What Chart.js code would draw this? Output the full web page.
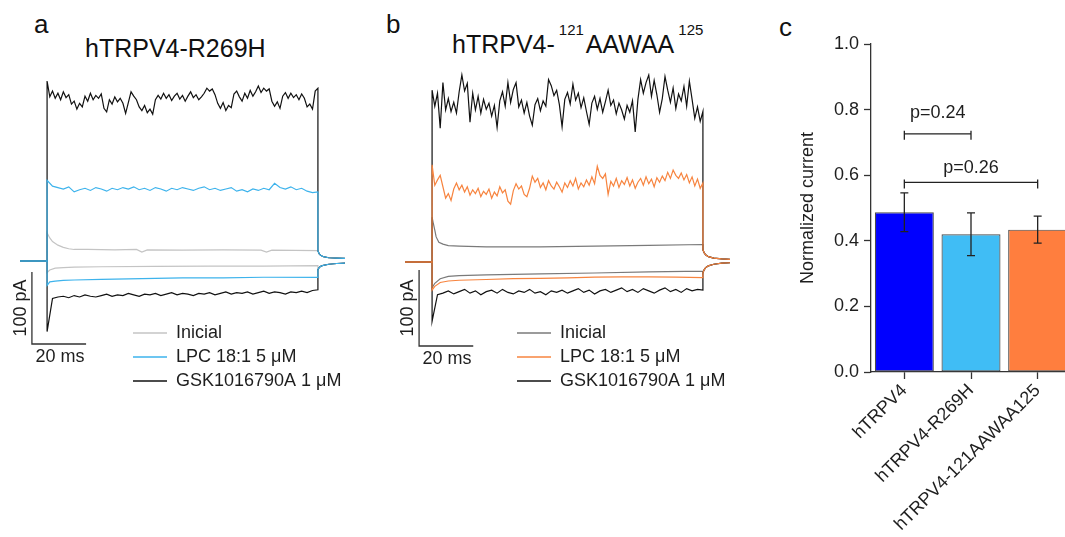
<!DOCTYPE html>
<html>
<head>
<meta charset="utf-8">
<script src="https://cdn.jsdelivr.net/npm/chart.js"></script>
<style>
  body { margin: 0; background: #fff; width: 1065px; height: 537px; overflow: hidden; position: relative; }
  canvas { position: absolute; top: 0; }
  .lab { position: absolute; font: 26px/26px "Liberation Sans", Arial, sans-serif; color: #111; }
  .ttl { position: absolute; font: 25px/25px "Liberation Sans", Arial, sans-serif; color: #111; white-space: nowrap; }
  .ttl sup { font-size: 15px; vertical-align: baseline; position: relative; top: -18px; margin: 0 2px 0 4px; }
</style>
</head>
<body>
<div class="lab" style="left:34px;top:11px">a</div>
<div class="ttl" style="left:85px;top:36px">hTRPV4-R269H</div>
<div class="lab" style="left:386px;top:11px">b</div>
<div class="ttl" style="left:452px;top:32px">hTRPV4-<sup>121</sup>AAWAA<sup>125</sup></div>
<div class="lab" style="left:779px;top:14px">c</div>

<canvas id="trace_a" width="360" height="400" style="left:0px"></canvas>
<canvas id="trace_b" width="360" height="400" style="left:380px"></canvas>
<canvas id="bar_c" width="310" height="537" style="left:770px"></canvas>

<script>
// ---- data (times in ms, currents in pA) ----
const conditions = ['Inicial', 'LPC 18:1 5 \u03bcM', 'GSK1016790A 1 \u03bcM'];
const scaleBarMs = 20;
const scaleBarPA = 100;

const baseT = [-10, 0];
const baseI = [0, 0];
const tailT = [100, 100.5, 101, 102, 104, 107, 110];

// panel a: hTRPV4-R269H
const grayUpA_t = [0, 1, 2, 4, 6, 8, 10, 15, 25, 33, 35, 37, 50, 65, 79, 81, 83, 100];
const grayUpA = [39, 32, 27, 22, 19, 17, 16, 16, 15.5, 16, 12.5, 15.5, 15, 15.5, 15, 12.5, 15, 14.5];
const grayDownA_t = [0, 1, 3, 6, 10, 20, 40, 60, 80, 100];
const grayDownA = [-16, -12.5, -10, -9.3, -8.5, -8, -7.5, -7, -7, -6.5];
const blueDownA_t = [0, 1, 3, 6, 10, 20, 35, 50, 65, 80, 100];
const blueDownA = [-34, -29, -28, -27, -26.4, -25.5, -24.5, -23.5, -23.5, -22.6, -22.8];
// every 2 ms
const blueUpA = [112, 104, 102, 100, 103, 96, 99, 101, 98, 102, 100, 97, 101, 99, 102, 100, 103, 99, 101, 98,
  102, 100, 97, 101, 99, 102, 100, 98, 101, 103, 99, 101, 98, 100, 102, 97, 99, 96, 100, 98,
  101, 99, 108, 102, 100, 103, 99, 101, 97, 95, 96];
const blackDownA = [-98, -52, -50, -49, -51, -48, -50, -47, -49, -50, -48, -46, -49, -47, -48, -45, -47, -49, -46, -47,
  -45, -48, -46, -44, -47, -45, -46, -48, -45, -46, -44, -47, -45, -43, -46, -44, -45, -43, -46, -44,
  -42, -45, -43, -44, -46, -43, -44, -42, -44, -41, -40];
// every 1 ms
const blackUpA = [250, 228, 236, 226, 233, 224, 235, 227, 231, 218, 222, 211, 219, 214, 229, 222, 233, 224, 230, 226,
  232, 212, 207, 224, 218, 228, 221, 226, 219, 205, 220, 235, 229, 224, 214, 209, 216, 206, 211, 204,
  224, 230, 225, 233, 226, 231, 223, 229, 233, 225, 230, 222, 229, 235, 227, 231, 224, 228, 233, 240,
  236, 239, 231, 219, 212, 220, 209, 216, 213, 232, 236, 228, 222, 233, 226, 237, 229, 235, 243, 234,
  240, 236, 239, 222, 215, 221, 212, 229, 234, 226, 233, 227, 231, 224, 232, 226, 214, 218, 211, 236, 240];
const tailUpA = [14, 10, 8, 6, 4.5, 4, 3.5];
const tailDownA = [-12, -9, -7.5, -6, -4.5, -3.5, -3];

// panel b: hTRPV4-121AAWAA125
const grayUpB_t = [0, 0.5, 1, 1.5, 2.5, 4, 6, 10, 20, 40, 60, 80, 100];
const grayUpB = [59, 50, 42, 33, 26, 23.5, 21.5, 21, 20, 20, 21, 22, 23];
const grayDownB_t = [0, 1, 3, 6, 10, 20, 40, 60, 80, 100];
const grayDownB = [-34, -28, -22, -19, -18, -17, -15.5, -14.5, -13, -12];
const orangeDownB_t = [0, 1, 3, 6, 10, 20, 30, 40, 50, 60, 70, 80, 90, 100];
const orangeDownB = [-37, -32, -27, -25, -24, -23, -22, -21.5, -21, -20, -19.5, -19.5, -20, -20.5];
// every 1 ms
const orangeUpB = [128, 101, 108, 114, 99, 84, 90, 81, 96, 104, 95, 101, 92, 99, 88, 95, 90, 97, 86, 93,
  89, 96, 84, 92, 87, 99, 91, 95, 80, 76, 94, 103, 96, 100, 89, 86, 97, 113, 105, 110,
  98, 104, 95, 107, 100, 96, 105, 99, 92, 104, 98, 107, 100, 110, 96, 104, 99, 108, 101, 112,
  103, 126, 114, 110, 116, 89, 106, 100, 110, 98, 107, 102, 111, 100, 108, 97, 105, 110, 101, 112,
  103, 109, 99, 111, 105, 113, 107, 118, 110, 121, 114, 110, 117, 108, 115, 104, 112, 100, 109, 97, 104];
const blackUpB = [226, 205, 222, 176, 236, 200, 215, 198, 210, 196, 224, 246, 225, 235, 184, 222, 200, 218, 196, 214,
  201, 209, 192, 206, 177, 212, 224, 205, 236, 210, 227, 236, 204, 213, 196, 210, 192, 180, 207, 215,
  199, 212, 205, 240, 232, 219, 226, 207, 178, 214, 223, 208, 234, 213, 222, 203, 216, 198, 181, 209,
  218, 201, 215, 197, 211, 226, 206, 213, 195, 209, 200, 188, 206, 197, 212, 171, 214, 240, 222, 236,
  246, 218, 239, 220, 197, 215, 244, 226, 210, 229, 202, 221, 212, 231, 205, 238, 214, 189, 204, 185, 198];
// every 2 ms
const blackDownB = [-78, -43, -41, -38, -42, -39, -36, -41, -38, -43, -39, -37, -41, -36, -40, -42, -38, -40, -36, -41,
  -39, -43, -38, -40, -37, -41, -38, -35, -40, -37, -42, -38, -36, -40, -37, -34, -39, -36, -40, -35,
  -38, -41, -37, -34, -39, -36, -40, -35, -38, -36, -37];
const tailUpB = [16, 12, 9.5, 7, 5, 4, 3.5];
const tailDownB = [-14, -10, -7.5, -5, -3, -1.5, -1];

// panel c
const groups = ['hTRPV4', 'hTRPV4-R269H', 'hTRPV4-121AAWAA125'];
const meanCurrent = [0.487, 0.420, 0.434];
const semCurrent = [0.059, 0.065, 0.041];
const pLabels = ['p=0.24', 'p=0.26'];
const pFrom = [0, 0];
const pTo = [1, 2];
const pLevel = [0.726, 0.578];

const FONT = '"Liberation Sans", Arial, sans-serif';
Chart.defaults.font.family = FONT;
Chart.defaults.color = '#1e1e1e';

function sampleTimes(values, dt) {
    return values.map((v, k) => k * dt);
}

function joinTrace(stepT, stepI, tailI) {
    const pts = baseT.map((t, k) => ({x: t, y: baseI[k]}));
    stepT.forEach((t, k) => pts.push({x: t, y: stepI[k]}));
    tailT.forEach((t, k) => pts.push({x: t, y: tailI[k]}));
    return pts;
}

function traceSet(pts, color, order) {
    return {data: pts, borderColor: color, borderWidth: 1.2, pointRadius: 0, fill: false, tension: 0, order: order};
}

// legend rows + scale bar, drawn in the trace charts
const traceExtras = {
    id: 'traceExtras',
    afterDraw(chart, args, opts) {
        const {ctx} = chart;
        const xs = chart.scales.x, ys = chart.scales.y;
        ctx.save();
        ctx.font = '18px ' + FONT;
        ctx.textBaseline = 'middle';
        ctx.textAlign = 'left';
        conditions.forEach((name, k) => {
            const yy = opts.legendY + k * 24;
            ctx.strokeStyle = opts.colors[k];
            ctx.lineWidth = 1.5;
            ctx.beginPath();
            ctx.moveTo(opts.legendX, yy);
            ctx.lineTo(opts.legendX + 34, yy);
            ctx.stroke();
            ctx.fillStyle = '#1e1e1e';
            ctx.fillText(name, opts.legendX + 43, yy);
        });

        const sb = opts.scaleBar;
        const x0 = xs.getPixelForValue(sb.t), x1 = xs.getPixelForValue(sb.t + scaleBarMs);
        const y0 = ys.getPixelForValue(sb.i), y1 = ys.getPixelForValue(sb.i + scaleBarPA);
        ctx.strokeStyle = '#333';
        ctx.lineWidth = 1.3;
        ctx.beginPath();
        ctx.moveTo(x0, y1);
        ctx.lineTo(x0, y0);
        ctx.lineTo(x1, y0);
        ctx.stroke();
        ctx.fillStyle = '#1e1e1e';
        ctx.textAlign = 'center';
        ctx.fillText(scaleBarMs + ' ms', x0 + 28, y0 + 13);
        ctx.translate(x0 - 11, (y0 + y1) / 2);
        ctx.rotate(-Math.PI / 2);
        ctx.fillText(scaleBarPA + ' pA', 0, 0);
        ctx.restore();
    }
};

function traceChart(id, datasets, yMin, yMax, padLeft, padRight, extras) {
    return new Chart(document.getElementById(id), {
        type: 'line',
        data: {datasets: datasets},
        options: {
            responsive: false,
            animation: false,
            devicePixelRatio: 1,
            layout: {padding: {left: padLeft, right: padRight, top: 70, bottom: 10}},
            scales: {
                x: {type: 'linear', min: -10, max: 110, display: false},
                y: {type: 'linear', min: yMin, max: yMax, display: false}
            },
            plugins: {legend: {display: false}, tooltip: {enabled: false}, traceExtras: extras}
        },
        plugins: [traceExtras]
    });
}

function createTraceA() {
    const gray = '#c4c4c4', blue = '#3db3ec', black = '#111111';
    const ds = [
        traceSet(joinTrace(grayUpA_t, grayUpA, tailUpA), gray, 3),
        traceSet(joinTrace(grayDownA_t, grayDownA, tailDownA), gray, 3),
        traceSet(joinTrace(sampleTimes(blackUpA, 1), blackUpA, tailUpA), black, 2),
        traceSet(joinTrace(sampleTimes(blackDownA, 2), blackDownA, tailDownA), black, 2),
        traceSet(joinTrace(sampleTimes(blueUpA, 2), blueUpA, tailUpA), blue, 1),
        traceSet(joinTrace(blueDownA_t, blueDownA, tailDownA), blue, 1)
    ];
    return traceChart('trace_a', ds, -179.2, 265.3, 20, 15, {
        colors: [gray, blue, black], legendX: 133, legendY: 333,
        scaleBar: {t: -5.6, i: -115.3}
    });
}

function createTraceB() {
    const gray = '#7a7a7a', orange = '#f7843f', black = '#111111';
    const ds = [
        traceSet(joinTrace(grayUpB_t, grayUpB, tailUpB), gray, 3),
        traceSet(joinTrace(grayDownB_t, grayDownB, tailDownB), gray, 3),
        traceSet(joinTrace(sampleTimes(blackUpB, 1), blackUpB, tailUpB), black, 2),
        traceSet(joinTrace(sampleTimes(blackDownB, 2), blackDownB, tailDownB), black, 2),
        traceSet(joinTrace(sampleTimes(orangeUpB, 1), orangeUpB, tailUpB), orange, 1),
        traceSet(joinTrace(orangeDownB_t, orangeDownB, tailDownB), orange, 1)
    ];
    return traceChart('trace_b', ds, -168.4, 252.6, 25, 10, {
        colors: [gray, orange, black], legendX: 137, legendY: 333,
        scaleBar: {t: -4.8, i: -110.5}
    });
}

// error bars and p-value brackets for the bar chart
const barExtras = {
    id: 'barExtras',
    afterDatasetsDraw(chart) {
        const {ctx} = chart;
        const xs = chart.scales.x, ys = chart.scales.y;
        ctx.save();
        ctx.strokeStyle = '#222';
        ctx.lineWidth = 1.3;
        meanCurrent.forEach((m, k) => {
            const x = xs.getPixelForValue(k);
            const yt = ys.getPixelForValue(m + semCurrent[k]);
            const yb = ys.getPixelForValue(m - semCurrent[k]);
            ctx.beginPath();
            ctx.moveTo(x, yt); ctx.lineTo(x, yb);
            ctx.moveTo(x - 4, yt); ctx.lineTo(x + 4, yt);
            ctx.moveTo(x - 4, yb); ctx.lineTo(x + 4, yb);
            ctx.stroke();
        });
        const gaps = [16, 9];
        ctx.font = '18px ' + FONT;
        ctx.fillStyle = '#1e1e1e';
        ctx.textAlign = 'center';
        ctx.textBaseline = 'alphabetic';
        pLabels.forEach((txt, k) => {
            const x1 = xs.getPixelForValue(pFrom[k]), x2 = xs.getPixelForValue(pTo[k]);
            const y = ys.getPixelForValue(pLevel[k]);
            ctx.beginPath();
            ctx.moveTo(x1, y); ctx.lineTo(x2, y);
            ctx.moveTo(x1, y - 3); ctx.lineTo(x1, y + 6);
            ctx.moveTo(x2, y - 3); ctx.lineTo(x2, y + 6);
            ctx.stroke();
            ctx.fillText(txt, (x1 + x2) / 2, y - gaps[k]);
        });
        ctx.restore();
    }
};

function createBarChart() {
    return new Chart(document.getElementById('bar_c'), {
        type: 'bar',
        data: {
            labels: groups,
            datasets: [{
                data: meanCurrent,
                backgroundColor: ['#0000ff', '#40bdf5', '#ff7e3e'],
                borderColor: '#4a4a4a',
                borderWidth: 1.2,
                borderSkipped: false,
                barPercentage: 0.885,
                categoryPercentage: 1
            }]
        },
        options: {
            responsive: false,
            animation: false,
            devicePixelRatio: 1,
            layout: {padding: {left: 25, right: 9, top: 44, bottom: 0}},
            scales: {
                x: {
                    grid: {offset: false, drawOnChartArea: false, tickLength: 7, tickColor: '#333', tickWidth: 1.3},
                    border: {color: '#333', width: 1.3},
                    ticks: {minRotation: 45, maxRotation: 45, autoSkip: false, padding: 1, font: {size: 18}},
                    afterFit: (scale) => { scale.height = 165; }
                },
                y: {
                    min: 0,
                    max: 1,
                    grid: {drawOnChartArea: false, tickLength: 7, tickColor: '#333', tickWidth: 1.3},
                    border: {color: '#333', width: 1.3},
                    ticks: {stepSize: 0.2, padding: 5, font: {size: 18}, callback: (v) => v.toFixed(1)},
                    title: {display: true, text: 'Normalized current', font: {size: 18}, padding: {top: 2, bottom: 0}},
                    afterFit: (scale) => { scale.width = 76; }
                }
            },
            plugins: {legend: {display: false}, tooltip: {enabled: false}}
        },
        plugins: [barExtras]
    });
}

createTraceA();
createTraceB();
createBarChart();
</script>
</body>
</html>
